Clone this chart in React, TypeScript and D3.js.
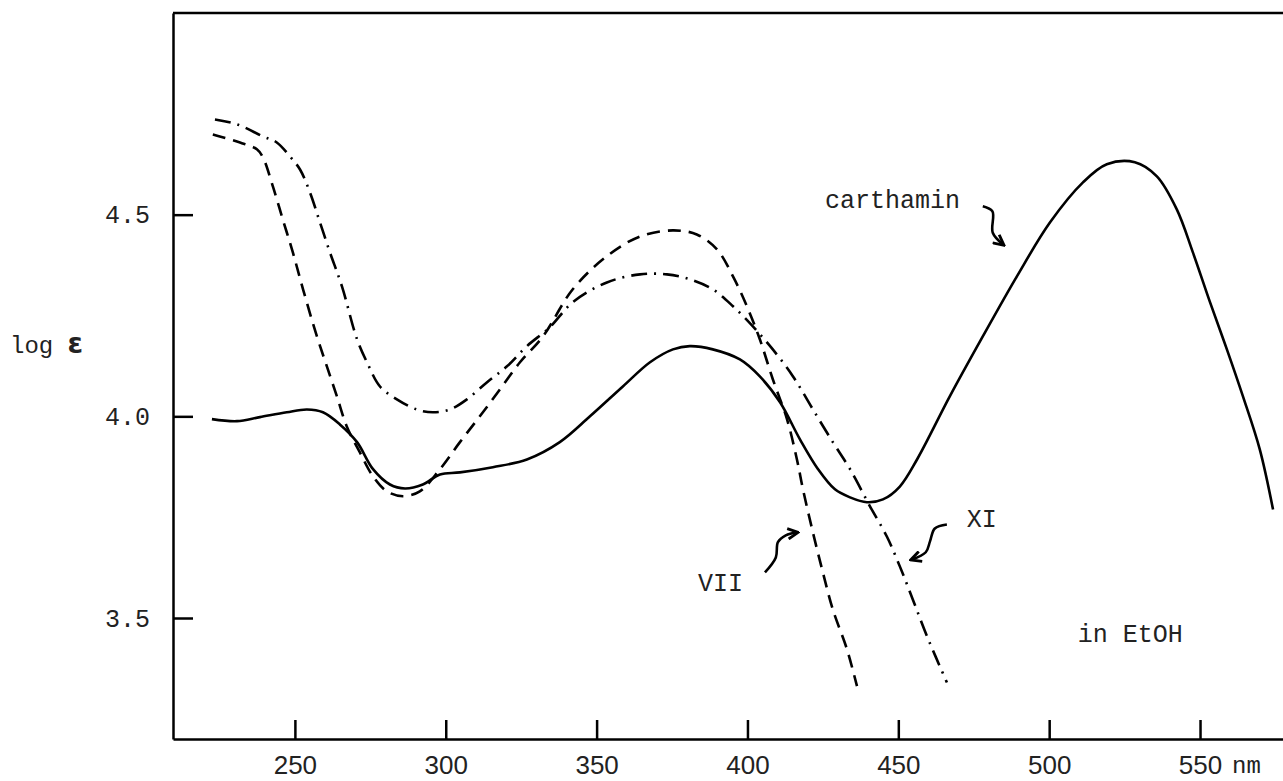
import React, { useEffect, useRef } from "react";
import * as d3 from "d3";

// wavelength (nm) / log eps pairs
const carthaminNm = [222.5, 230.8, 238.4, 247.3, 254.0, 259.3, 264.9, 270.6, 275.9, 281.5, 286.5, 292.4, 298.1, 304.7, 315.6, 326.9, 337.8, 347.8, 358.7, 367.7, 375.3, 380.9, 388.5, 397.5, 404.1, 410.8, 417.4, 423.4, 429.0, 434.0, 439.6, 444.9, 450.5, 456.2, 467.1, 478.0, 489.3, 500.3, 511.2, 519.1, 528.4, 535.7, 542.3, 547.6, 553.3, 558.9, 564.2, 569.8, 574.2];
const carthaminLog = [3.993, 3.988, 3.998, 4.010, 4.017, 4.010, 3.980, 3.936, 3.869, 3.831, 3.821, 3.831, 3.856, 3.861, 3.874, 3.893, 3.936, 4.000, 4.074, 4.134, 4.166, 4.174, 4.166, 4.141, 4.099, 4.035, 3.943, 3.869, 3.819, 3.799, 3.787, 3.794, 3.826, 3.893, 4.050, 4.198, 4.347, 4.481, 4.580, 4.625, 4.630, 4.595, 4.513, 4.407, 4.283, 4.166, 4.050, 3.918, 3.769];

const viiNm = [222.8, 231.8, 237.4, 239.4, 242.7, 246.0, 249.3, 252.7, 257.3, 260.6, 263.9, 267.2, 271.5, 275.9, 280.5, 285.8, 291.4, 298.1, 304.7, 311.3, 318.0, 324.6, 332.2, 342.1, 353.4, 364.4, 375.3, 383.2, 389.9, 395.2, 399.8, 404.1, 408.4, 413.1, 416.4, 418.4, 421.7, 425.0, 428.3, 433.0, 436.3];
const viiLog = [4.699, 4.679, 4.662, 4.642, 4.570, 4.488, 4.407, 4.315, 4.198, 4.124, 4.050, 3.975, 3.911, 3.851, 3.814, 3.802, 3.814, 3.869, 3.936, 4.000, 4.067, 4.134, 4.198, 4.315, 4.397, 4.446, 4.461, 4.451, 4.414, 4.347, 4.273, 4.191, 4.092, 3.993, 3.893, 3.819, 3.712, 3.613, 3.521, 3.422, 3.331];

const xiNm = [223.5, 230.8, 239.4, 244.0, 248.3, 251.7, 255.0, 258.3, 261.6, 265.6, 270.6, 273.9, 278.2, 283.8, 290.4, 295.7, 301.4, 307.0, 313.6, 320.3, 326.9, 334.5, 342.1, 353.4, 364.4, 373.3, 380.9, 388.5, 395.2, 401.8, 408.4, 415.1, 421.7, 428.3, 434.0, 440.6, 446.2, 450.5, 454.8, 459.5, 466.1];
const xiLog = [4.736, 4.724, 4.694, 4.679, 4.645, 4.612, 4.555, 4.481, 4.407, 4.322, 4.191, 4.134, 4.074, 4.042, 4.017, 4.010, 4.017, 4.042, 4.084, 4.124, 4.174, 4.221, 4.283, 4.332, 4.352, 4.352, 4.340, 4.315, 4.273, 4.223, 4.166, 4.099, 4.017, 3.936, 3.869, 3.777, 3.702, 3.628, 3.546, 3.455, 3.340];

const xTicks = [250, 300, 350, 400, 450, 500, 550];
const yTicks = [3.5, 4.0, 4.5];
const yTickLabels = ["3.5", "4.0", "4.5"];

// labels and their little curly arrows, in data units
const labels = [
  { text: "carthamin", nm: 425.7, v: 4.516 },
  { text: "VII", nm: 383.6, v: 3.566 },
  { text: "XI", nm: 472.7, v: 3.725 },
  { text: "in EtOH", nm: 509.5, v: 3.44 },
];
const arrows = [
  [[478.0, 4.521], [481.2, 4.508], [481.3, 4.455], [484.7, 4.426]],
  [[405.8, 3.613], [409.4, 3.65], [410.1, 3.688], [412.7, 3.705], [416.4, 3.712]],
  [[466.1, 3.732], [462.1, 3.722], [460.5, 3.69], [459.1, 3.663], [454.5, 3.645]],
];

const W = 1283, H = 781;
const left = 173, right = 1283, top = 13, bottom = 739;
const mono = "'Liberation Mono', 'DejaVu Sans Mono', monospace";

export default function App() {
  const ref = useRef<SVGSVGElement>(null);

  useEffect(() => {
    const svg = d3.select(ref.current);
    svg.selectAll("*").remove();

    const x = d3.scaleLinear().domain([209.6, 577.5]).range([left, right]);
    const y = d3.scaleLinear().domain([3.2, 5.0]).range([bottom, top]);

    svg.append("defs").append("marker")
      .attr("id", "head")
      .attr("viewBox", "0 0 10 10")
      .attr("refX", 8).attr("refY", 5)
      .attr("markerWidth", 5).attr("markerHeight", 5)
      .attr("orient", "auto")
      .append("path")
      .attr("d", "M1,1 L9,5 L1,9")
      .attr("fill", "none")
      .attr("stroke", "#000")
      .attr("stroke-width", 2.2);

    // frame: top line, left and bottom via axes
    svg.append("line")
      .attr("x1", left).attr("x2", right)
      .attr("y1", top).attr("y2", top)
      .attr("stroke", "#000").attr("stroke-width", 2.5);

    const yAxis = d3.axisLeft(y)
      .tickValues(yTicks)
      .tickSizeInner(-20)
      .tickSizeOuter(0)
      .tickPadding(23)
      .tickFormat((d, i) => yTickLabels[i]);

    const gy = svg.append("g")
      .attr("transform", "translate(" + left + ",0)")
      .call(yAxis);
    gy.select(".domain").attr("stroke-width", 2.5);
    gy.selectAll(".tick line").attr("stroke-width", 2.5);
    gy.selectAll(".tick text")
      .style("font", "25px " + mono)
      .attr("fill", "#222");

    const xAxis = d3.axisBottom(x)
      .tickValues(xTicks)
      .tickSizeInner(-19)
      .tickSizeOuter(0)
      .tickPadding(17)
      .tickFormat(d3.format("d"));

    const gx = svg.append("g")
      .attr("transform", "translate(0," + bottom + ")")
      .call(xAxis);
    gx.select(".domain").attr("stroke-width", 2.5);
    gx.selectAll(".tick line").attr("stroke-width", 2.5);
    gx.selectAll(".tick text")
      .style("font", "26px 'Liberation Sans', sans-serif")
      .attr("fill", "#222");

    svg.append("text")
      .attr("x", x(550) + 32).attr("y", bottom + 34)
      .style("font", "24px " + mono)
      .attr("fill", "#222")
      .text("nm");

    // y label
    const yl = svg.append("text")
      .attr("x", 10).attr("y", 353)
      .style("font", "24px " + mono)
      .attr("fill", "#222");
    yl.append("tspan").text("log ");
    yl.append("tspan").attr("font-weight", "bold").attr("font-size", "28px").attr("font-family", "'DejaVu Sans', sans-serif").text("ε");

    const line = d3.line<[number, number]>()
      .x(d => x(d[0]))
      .y(d => y(d[1]))
      .curve(d3.curveCatmullRom);

    const series = [
      { nm: carthaminNm, v: carthaminLog, dash: null },
      { nm: viiNm, v: viiLog, dash: "13,8" },
      { nm: xiNm, v: xiLog, dash: "16,7,2,7" },
    ];

    series.forEach(s => {
      const pts = s.nm.map((n, i) => [n, s.v[i]] as [number, number]);
      svg.append("path")
        .datum(pts)
        .attr("fill", "none")
        .attr("stroke", "#000")
        .attr("stroke-width", 2.6)
        .attr("stroke-dasharray", s.dash)
        .attr("d", line);
    });

    labels.forEach(l => {
      svg.append("text")
        .attr("x", x(l.nm)).attr("y", y(l.v))
        .style("font", "25px " + mono)
        .attr("fill", "#222")
        .text(l.text);
    });

    arrows.forEach(a => {
      svg.append("path")
        .datum(a as [number, number][])
        .attr("fill", "none")
        .attr("stroke", "#000")
        .attr("stroke-width", 2.6)
        .attr("marker-end", "url(#head)")
        .attr("d", line);
    });
  }, []);

  return (
    <div style={{ position: "absolute", left: 0, top: 0 }}>
      <svg ref={ref} width={W} height={H} style={{ background: "#fff", display: "block" }} />
    </div>
  );
}
